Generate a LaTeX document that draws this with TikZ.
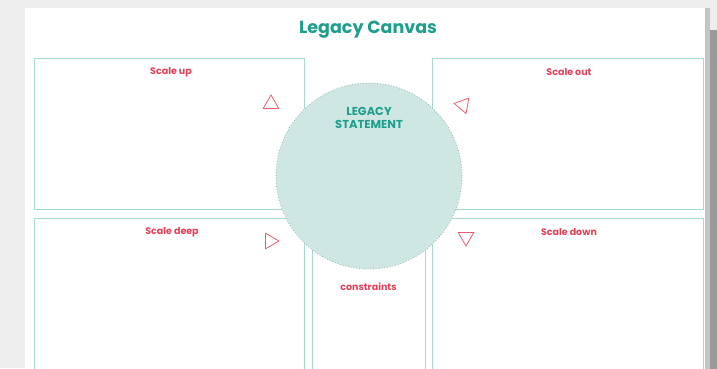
\documentclass[tikz,border=0pt]{standalone}
\usepackage{fontspec}
\setmainfont{Poppins}
\usetikzlibrary{shapes.geometric}
\definecolor{titleteal}{HTML}{1E9E8C}
\definecolor{boxline}{HTML}{A3DBCF}
\definecolor{circfill}{HTML}{CFE7E3}
\definecolor{circline}{HTML}{94B8B1}
\definecolor{labelred}{HTML}{E3405A}
\definecolor{pagegray}{HTML}{EEEEEE}
\definecolor{shadelight}{HTML}{C4C4C4}
\definecolor{shadedark}{HTML}{9A9A9A}
\tikzset{
  panel/.style={draw=boxline, line width=1.2pt, anchor=north west, inner sep=0pt, fill=white},
  lbl/.style={text=labelred, font=\fontsize{9.5}{10}\selectfont\bfseries, inner sep=0pt},
  tri/.style={draw=labelred!85, line width=0.8pt, regular polygon, regular polygon sides=3, minimum size=18pt, inner sep=0pt},
}
\begin{document}
\begin{tikzpicture}[x=1pt,y=-1pt]
\useasboundingbox (0,0) rectangle (717,368);
\begin{scope}
\clip (0,0) rectangle (717,368);
\fill[pagegray] (0,0) rectangle (717,368);
\fill[white] (25,8) rectangle (705,380);
\fill[shadelight] (705,8) rectangle (710,380);
\fill[shadedark] (710,30) rectangle (717,380);
\node[panel, minimum width=270pt, minimum height=151pt] (tl) at (34,58) {};
\node[panel, minimum width=271pt, minimum height=151pt] (tr) at (432,58) {};
\node[panel, minimum width=270pt, minimum height=160pt] (bl) at (34,218) {};
\node[panel, minimum width=113pt, minimum height=160pt] (bm) at (312,218) {};
\node[panel, minimum width=271pt, minimum height=160pt] (br) at (432,218) {};
\node[circle, fill=circfill, draw=circline, dotted, line width=0.8pt, minimum size=186pt, inner sep=0pt] (c) at (369,176) {};
\end{scope}
\node[text=titleteal, font=\fontsize{17.5}{19}\selectfont\bfseries, inner sep=0pt] (title) at (368,30) {Legacy Canvas};
\node[text=titleteal, font=\fontsize{11.5}{13}\selectfont\bfseries, align=center, inner sep=0pt] (stmt) at (369,118) {LEGACY\\STATEMENT};
\node[lbl] (up) at (171,72.5) {Scale up};
\node[lbl] (out) at (569,72.5) {Scale out};
\node[lbl] (deep) at (172,232) {Scale deep};
\node[lbl] (down) at (569,232) {Scale down};
\node[lbl] (cons) at (368.5,287) {constraints};
\node[tri, rotate=0] (tup) at (271,104) {};
\node[tri, rotate=80] (tleft) at (463,105) {};
\node[tri, rotate=-90] (tright) at (270,241) {};
\node[tri, rotate=180] (tdown) at (466,237) {};
\end{tikzpicture}
\end{document}
